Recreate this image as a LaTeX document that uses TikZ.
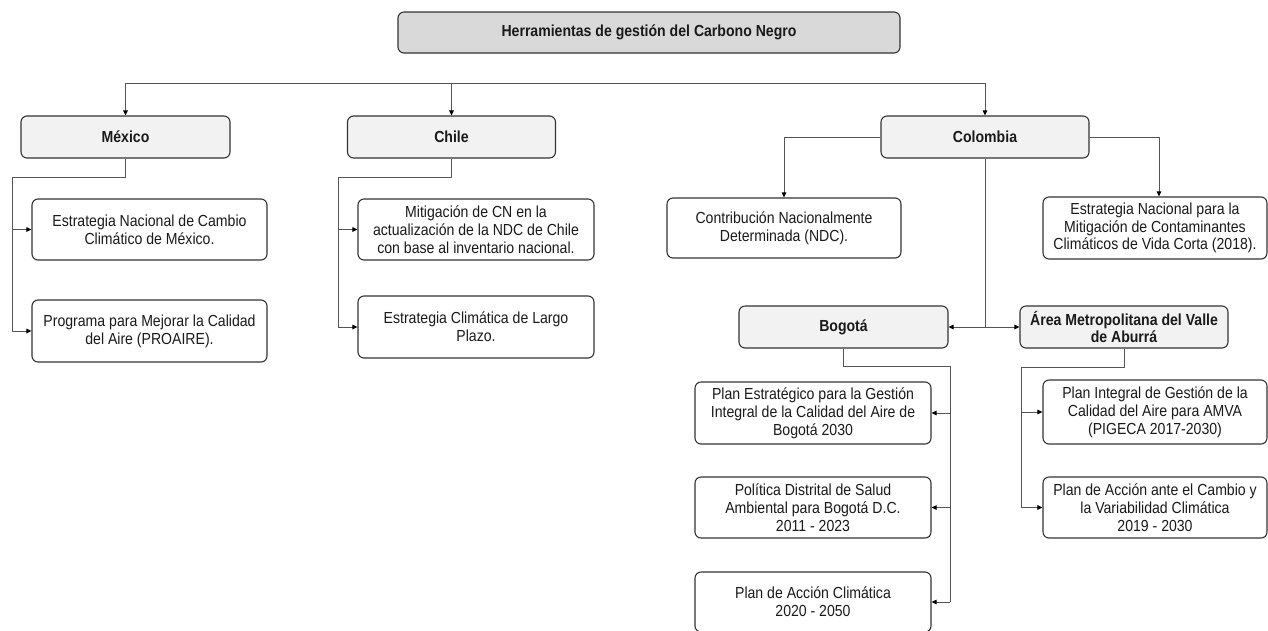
\documentclass[tikz,border=0pt]{standalone}
\usepackage{fontspec}
\setmainfont{Liberation Sans}[FakeStretch=0.88]
\usetikzlibrary{arrows.meta}
\definecolor{titlefill}{HTML}{D9D9D9}
\definecolor{cfill}{HTML}{F2F2F2}
\definecolor{bordercol}{HTML}{333333}
\definecolor{linecol}{HTML}{555555}
\definecolor{textcol}{HTML}{1A1A1A}
\tikzset{
  basebox/.style={draw=bordercol, line width=1.1pt, rounded corners=6pt, align=center, inner sep=2pt,
    text=textcol, font=\fontsize{16}{17.8}\selectfont},
  titlebox/.style={basebox, fill=titlefill, font=\fontsize{16}{17.8}\selectfont\bfseries},
  countrybox/.style={basebox, fill=cfill, font=\fontsize{16}{17.8}\selectfont\bfseries},
  leafbox/.style={basebox, fill=white},
  conn/.style={draw=linecol, line width=1pt},
  arr/.style={conn, -{Triangle[length=5pt,width=4.5pt,color=black]}},
}
\begin{document}
\begin{tikzpicture}[x=1pt,y=-1pt]
\useasboundingbox (0,0) rectangle (1268,630);

% title
\node[titlebox, minimum width=502pt, minimum height=41pt] (title) at (649,32.5) {Herramientas de gestión del Carbono Negro};

% countries
\node[countrybox, minimum width=209pt, minimum height=42pt] (mex) at (125.5,137) {México};
\node[countrybox, minimum width=208pt, minimum height=42pt] (chi) at (451.5,137) {Chile};
\node[countrybox, minimum width=208pt, minimum height=42pt] (col) at (985,137) {Colombia};

% Mexico children
\node[leafbox, minimum width=235pt, minimum height=61pt] (mex1) at (149.5,229.5) {Estrategia Nacional de Cambio\\Climático de México.};
\node[leafbox, minimum width=235pt, minimum height=62pt] (mex2) at (149.5,331) {Programa para Mejorar la Calidad\\del Aire (PROAIRE).};

% Chile children
\node[leafbox, minimum width=236pt, minimum height=61pt] (chi1) at (476,229.5) {Mitigación de CN en la\\actualización de la NDC de Chile\\con base al inventario nacional.};
\node[leafbox, minimum width=236pt, minimum height=62pt] (chi2) at (476,327) {Estrategia Climática de Largo\\Plazo.};

% Colombia children
\node[leafbox, minimum width=234pt, minimum height=60pt] (ndc) at (784,228) {Contribución Nacionalmente\\Determinada (NDC).};
\node[leafbox, minimum width=224pt, minimum height=62pt] (encc) at (1155,228) {Estrategia Nacional para la\\Mitigación de Contaminantes\\Climáticos de Vida Corta (2018).};

\node[countrybox, minimum width=209pt, minimum height=42pt] (bog) at (843.5,327) {Bogotá};
\node[countrybox, minimum width=208pt, minimum height=42pt] (amva) at (1124,327) {Área Metropolitana del Valle\\de Aburrá};

% Bogota children
\node[leafbox, minimum width=236pt, minimum height=62pt] (bog1) at (813,413) {Plan Estratégico para la Gestión\\Integral de la Calidad del Aire de\\Bogotá 2030};
\node[leafbox, minimum width=236pt, minimum height=61pt] (bog2) at (813,507.5) {Política Distrital de Salud\\Ambiental para Bogotá D.C.\\2011 - 2023};
\node[leafbox, minimum width=236pt, minimum height=60pt] (bog3) at (813,602) {Plan de Acción Climática\\2020 - 2050};

% AMVA children
\node[leafbox, minimum width=224pt, minimum height=64pt] (amva1) at (1155,412) {Plan Integral de Gestión de la\\Calidad del Aire para AMVA\\(PIGECA 2017-2030)};
\node[leafbox, minimum width=224pt, minimum height=61pt] (amva2) at (1155,507.5) {Plan de Acción ante el Cambio y\\la Variabilidad Climática\\2019 - 2030};

% top bus
\coordinate (busL) at (125.5,83);
\coordinate (busR) at (985,83);
\draw[conn] (busL) -- (busR);
\draw[arr] (mex.north |- busL) -- (mex.north);
\draw[arr] (chi.north |- busL) -- (chi.north);
\draw[arr] (col.north |- busL) -- (col.north);

% Mexico
\coordinate (mexbus) at (12,177);
\draw[conn] (mex.south) |- (mexbus) -- (mexbus |- mex2.west);
\draw[arr] (mexbus |- mex1.west) -- (mex1.west);
\draw[arr] (mexbus |- mex2.west) -- (mex2.west);

% Chile
\coordinate (chibus) at (338,177);
\draw[conn] (chi.south) |- (chibus) -- (chibus |- chi2.west);
\draw[arr] (chibus |- chi1.west) -- (chi1.west);
\draw[arr] (chibus |- chi2.west) -- (chi2.west);

% Colombia
\draw[arr] (col.west) -| (ndc.north);
\coordinate (colR) at (1159,136);
\draw[arr] (col.east) -| (colR |- encc.north);
\coordinate (coljoin) at (985,327);
\draw[conn] (col.south) -- (coljoin);
\draw[arr] (coljoin) -- (bog.east);
\draw[arr] (coljoin) -- (amva.west);

% Bogota
\coordinate (bogbus) at (950,366.5);
\draw[conn] (bog.south) |- (bogbus) -- (bogbus |- bog3.east);
\draw[arr] (bogbus |- bog1.east) -- (bog1.east);
\draw[arr] (bogbus |- bog2.east) -- (bog2.east);
\draw[arr] (bogbus |- bog3.east) -- (bog3.east);

% AMVA
\coordinate (amvabus) at (1021,367);
\draw[conn] (amva.south) |- (amvabus) -- (amvabus |- amva2.west);
\draw[arr] (amvabus |- amva1.west) -- (amva1.west);
\draw[arr] (amvabus |- amva2.west) -- (amva2.west);
\end{tikzpicture}
\end{document}
